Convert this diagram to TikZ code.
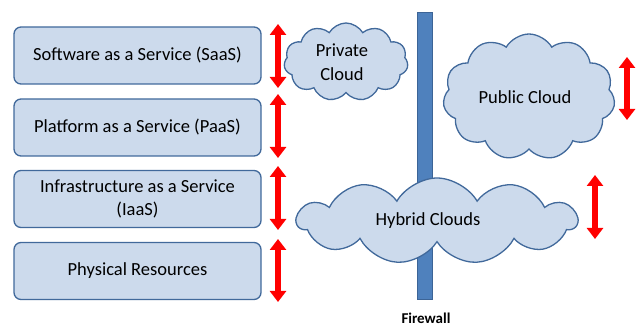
\documentclass[tikz,border=0pt]{standalone}
\usepackage{fontspec}
\setmainfont{Carlito}
\usetikzlibrary{shapes.symbols,arrows.meta}

\definecolor{layerfill}{RGB}{204,218,236}
\definecolor{layeredge}{RGB}{65,105,155}
\definecolor{wallblue}{RGB}{79,129,189}
\definecolor{walledge}{RGB}{60,100,150}

\tikzset{
  layer/.style={draw=layeredge, fill=layerfill, line width=1.3pt, rounded corners=7pt,
    minimum width=247pt, minimum height=57pt, align=center, font=\fontsize{18.5}{23.5}\selectfont},
  cloudnode/.style={cloud, draw=layeredge, fill=layerfill, line width=1.3pt, cloud puffs=11,
    cloud puff arc=120, cloud ignores aspect},
  cloudtext/.style={align=center, font=\fontsize{18.5}{23.5}\selectfont},
  updown/.style={red, line width=5.5pt,
    {Triangle[width=16pt,length=11pt]}-{Triangle[width=16pt,length=11pt]}}
}

\begin{document}
\begin{tikzpicture}[x=1pt,y=-1pt]
  \useasboundingbox (0,0) rectangle (639,328);

  % Service layers
  \node[layer] (saas) at (137.5,55.5) {Software as a Service (SaaS)};
  \node[layer] (paas) at (137.5,127.5) {Platform as a Service (PaaS)};
  \node[layer] (iaas) at (137.5,199) {Infrastructure as a Service\\(IaaS)};
  \node[layer] (phys) at (137.5,271) {Physical Resources};

  % Arrows beside the layers
  \draw[updown] (278,24) -- (278,88);
  \draw[updown] (278,94) -- (278,158);
  \draw[updown] (278,166) -- (278,230);
  \draw[updown] (278,239) -- (278,302);

  % Firewall
  \draw[fill=wallblue, draw=walledge, line width=0.8pt] (417,12) rectangle (432,299);
  \node[font=\bfseries\fontsize{15}{17}\selectfont] (fwlabel) at (426,318) {Firewall};

  % Clouds
  \node[cloudnode, minimum width=124pt, minimum height=78pt] (private) at (346,62) {};
  \node[cloudtext] (privatetext) at (342,62) {Private\\Cloud};
  \node[cloudnode, minimum width=172pt, minimum height=126pt] (public) at (529,97) {};
  \node[cloudtext] (publictext) at (525,97) {Public Cloud};
  \node[cloudnode, minimum width=280pt, minimum height=86pt] (hybrid) at (437,221) {};
  \node[cloudtext] (hybridtext) at (428,221) {Hybrid Clouds};

  % Arrows beside the clouds
  \draw[updown] (627,57) -- (627,120);
  \draw[updown] (595,175) -- (595,239);
\end{tikzpicture}
\end{document}
